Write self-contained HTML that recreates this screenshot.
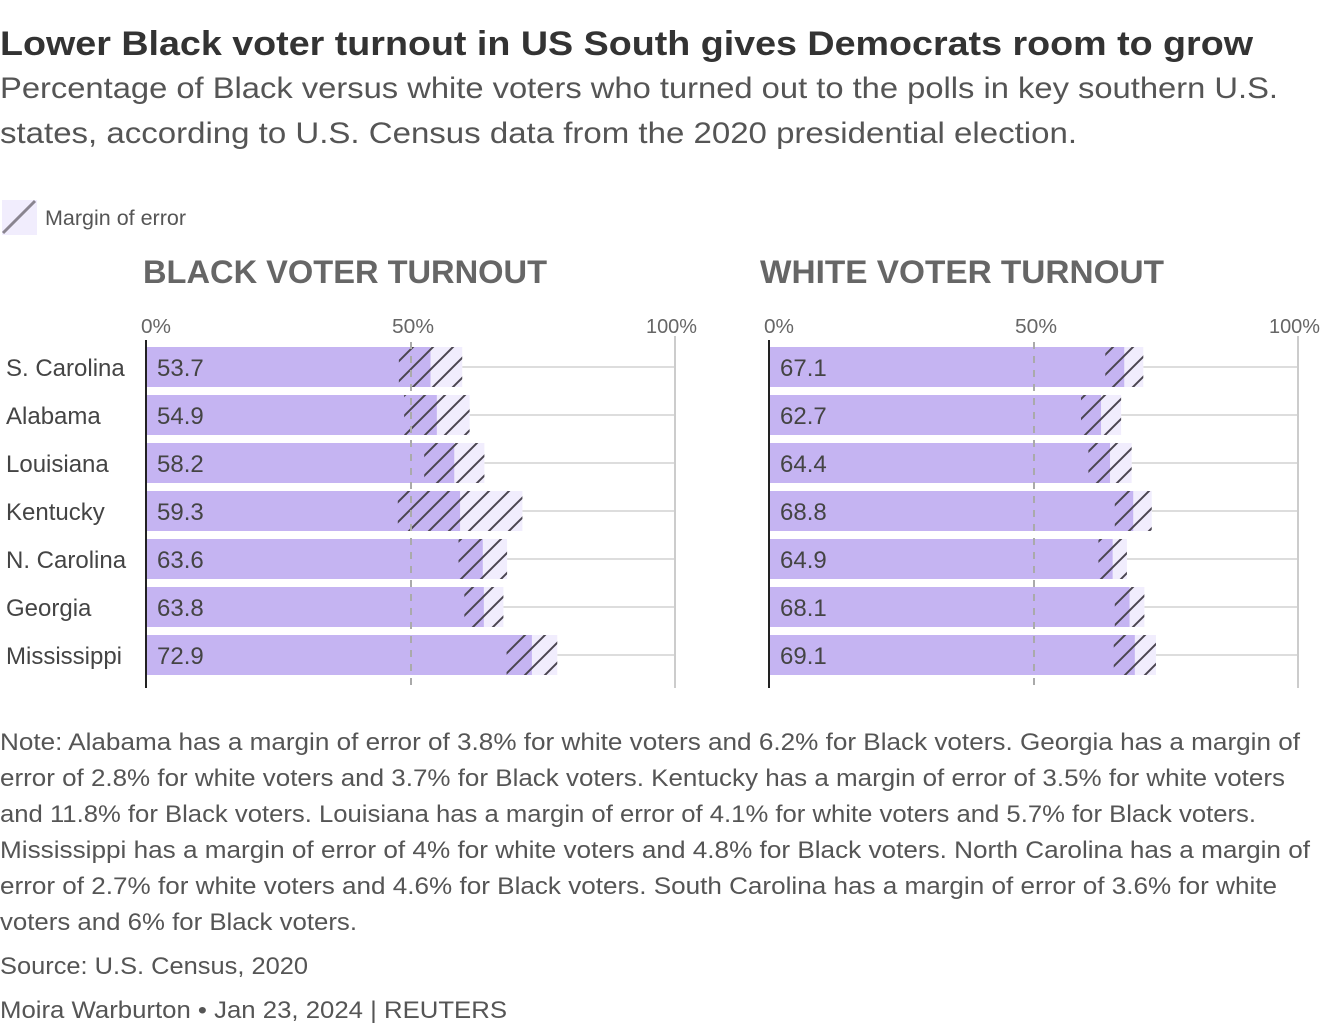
<!DOCTYPE html>
<html><head><meta charset="utf-8"><style>
html,body{margin:0;padding:0;background:#fff}
svg{display:block;font-family:"Liberation Sans",sans-serif}
</style></head><body>
<svg id="c" width="1320" height="1030" viewBox="0 0 1320 1030">
<defs>
<pattern id="hatch" patternUnits="userSpaceOnUse" width="20" height="20">
<line x1="-5" y1="25" x2="25" y2="-5" stroke="#4a4550" stroke-width="2"/>
<line x1="-25" y1="25" x2="5" y2="-5" stroke="#4a4550" stroke-width="2"/>
<line x1="15" y1="25" x2="45" y2="-5" stroke="#4a4550" stroke-width="2"/>
</pattern>
</defs>
<text x="0" y="55" font-size="34" font-weight="bold" fill="#333" textLength="1253" lengthAdjust="spacingAndGlyphs">Lower Black voter turnout in US South gives Democrats room to grow</text>
<text fill="#555" font-size="30">
<tspan x="0" y="98" textLength="1278" lengthAdjust="spacingAndGlyphs">Percentage of Black versus white voters who turned out to the polls in key southern U.S.</tspan>
<tspan x="0" y="143" textLength="1077" lengthAdjust="spacingAndGlyphs">states, according to U.S. Census data from the 2020 presidential election.</tspan>
</text>
<g>
<rect x="2" y="200" width="35" height="35" fill="#f1edfd"/>
<line x1="3" y1="233" x2="35" y2="201" stroke="#8a8590" stroke-width="3"/>
<text x="45" y="225" font-size="21" fill="#555" textLength="141" lengthAdjust="spacingAndGlyphs">Margin of error</text>
</g>
<g id="notes" fill="#555" font-size="24">
<text x="0" y="750" textLength="1300" lengthAdjust="spacingAndGlyphs">Note: Alabama has a margin of error of 3.8% for white voters and 6.2% for Black voters. Georgia has a margin of</text>
<text x="0" y="786" textLength="1285" lengthAdjust="spacingAndGlyphs">error of 2.8% for white voters and 3.7% for Black voters. Kentucky has a margin of error of 3.5% for white voters</text>
<text x="0" y="822" textLength="1256" lengthAdjust="spacingAndGlyphs">and 11.8% for Black voters. Louisiana has a margin of error of 4.1% for white voters and 5.7% for Black voters.</text>
<text x="0" y="858" textLength="1310" lengthAdjust="spacingAndGlyphs">Mississippi has a margin of error of 4% for white voters and 4.8% for Black voters. North Carolina has a margin of</text>
<text x="0" y="894" textLength="1277" lengthAdjust="spacingAndGlyphs">error of 2.7% for white voters and 4.6% for Black voters. South Carolina has a margin of error of 3.6% for white</text>
<text x="0" y="930" textLength="357" lengthAdjust="spacingAndGlyphs">voters and 6% for Black voters.</text>
<text x="0" y="974" textLength="308" lengthAdjust="spacingAndGlyphs">Source: U.S. Census, 2020</text>
<text x="0" y="1018" textLength="507" lengthAdjust="spacingAndGlyphs">Moira Warburton • Jan 23, 2024 | REUTERS</text>
</g>
</svg>
<script>
const states=["S. Carolina","Alabama","Louisiana","Kentucky","N. Carolina","Georgia","Mississippi"];
const blackVals=[53.7,54.9,58.2,59.3,63.6,63.8,72.9];
const blackMoe=[6,6.2,5.7,11.8,4.6,3.7,4.8];
const whiteVals=[67.1,62.7,64.4,68.8,64.9,68.1,69.1];
const whiteMoe=[3.6,3.8,4.1,3.5,2.7,2.8,4];
const ticks=[0,50,100];
const tickLabels=["0%","50%","100%"];

const svg=document.getElementById('c');
const NS='http://www.w3.org/2000/svg';
function mk(tag,attrs,parent){const e=document.createElementNS(NS,tag);for(const k in attrs)e.setAttribute(k,attrs[k]);(parent||svg).appendChild(e);return e;}
const tickOff=[-6,-19,-29], tickW=[30,42,51];
function panel(x0,title,titleX,vals,moe,name,labels){
  const g=mk('g',{});
  
  
  const sx=v=>x0+v*5.28;
  const rowY=i=>367+i*48;
  const t=mk('text',{x:titleX,y:283,'font-size':32,'font-weight':'bold',fill:'#666',textLength:404,lengthAdjust:'spacingAndGlyphs'},g);
  t.textContent=title;
  
  
  ticks.forEach((tv,i)=>{
    const tl=mk('text',{x:sx(tv)+tickOff[i],y:333,'font-size':20,fill:'#666',textLength:tickW[i],lengthAdjust:'spacingAndGlyphs'},g);
    tl.textContent=tickLabels[i];
    
    
  });
  states.forEach((s,i)=>{
    const y=rowY(i);
    const gl=mk('line',{x1:sx(vals[i]+moe[i]),x2:sx(100),y1:y,y2:y,stroke:'#ddd','stroke-width':2},g);
    
    
    const lo=mk('rect',{x:sx(vals[i]),y:y-20,width:sx(vals[i]+moe[i])-sx(vals[i]),height:40,fill:'#f1edfd'},g);
    
    
    const b=mk('rect',{x:sx(0),y:y-20,width:sx(vals[i])-sx(0),height:40,fill:'#c5b4f2'},g);
    
    
    const h=mk('rect',{x:sx(vals[i]-moe[i]),y:y-20,width:sx(2*moe[i])-sx(0),height:40,fill:'url(#hatch)'},g);
    
    
    const v=mk('text',{x:sx(0)+10,y:y+9,'font-size':24,fill:'#444'},g);
    v.textContent=vals[i].toFixed(1);
    
    
    if(labels){
      const l=mk('text',{x:6,y:y+9,'font-size':24,fill:'#444'},g);
      l.textContent=s;
      
      
    }
  });
  const m=mk('line',{x1:sx(50),x2:sx(50),y1:342,y2:688,stroke:'#aaa','stroke-width':2,'stroke-dasharray':'7,7'},g);
  
  
  const e=mk('line',{x1:sx(100),x2:sx(100),y1:336,y2:688,stroke:'#ccc','stroke-width':2},g);
  
  
  const a=mk('line',{x1:sx(0)-1,x2:sx(0)-1,y1:340,y2:688,stroke:'#222','stroke-width':2},g);
  
  
}
panel(147,"BLACK VOTER TURNOUT",143,blackVals,blackMoe,'black-turnout-chart',true);
panel(770,"WHITE VOTER TURNOUT",760,whiteVals,whiteMoe,'white-turnout-chart',false);
</script>
</body></html>
